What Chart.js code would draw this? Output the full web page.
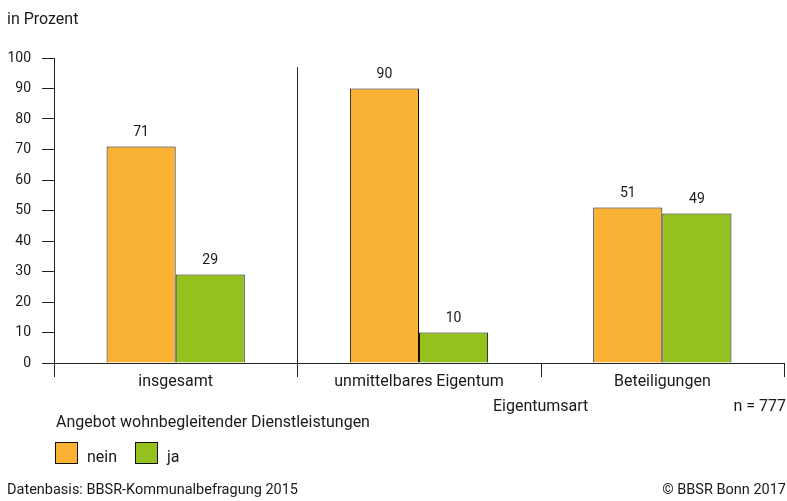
<!DOCTYPE html>
<html>
<head>
<meta charset="utf-8">
<script src="https://cdn.jsdelivr.net/npm/chart.js@4"></script>
<style>
  html, body { margin: 0; padding: 0; background: #fff; }
  #wrap { width: 787px; height: 501px; }
</style>
</head>
<body>
<div id="wrap"><canvas id="chart" width="787" height="501"></canvas></div>
<script>
// values
var categories = ['insgesamt', 'unmittelbares Eigentum', 'Beteiligungen']
var seriesNames = ['nein', 'ja']
var neinValues = [71, 90, 51]
var jaValues = [29, 10, 49]
var yTicks = [0, 10, 20, 30, 40, 50, 60, 70, 80, 90, 100]

var FONT = 'Roboto, sans-serif'
var TEXT = '#1a1a1a'

var extras = {
    id: 'extras',
    afterDatasetsDraw(chart) {
        var ctx = chart.ctx
        var x = chart.scales.x
        var y = chart.scales.y
        var area = chart.chartArea
        ctx.save()

        // value labels above the bars
        ctx.fillStyle = TEXT
        ctx.font = '14px ' + FONT
        ctx.textAlign = 'center'
        ctx.textBaseline = 'bottom'
        chart.data.datasets.forEach((ds, i) => {
            chart.getDatasetMeta(i).data.forEach((bar, j) => {
                ctx.fillText(String(ds.data[j]), bar.x, bar.y - 7)
            })
        })

        // category boundary ticks below the axis
        ctx.strokeStyle = '#222'
        ctx.lineWidth = 1
        var step = x.getPixelForTick(1) - x.getPixelForTick(0)
        for (var k = 0; k <= categories.length; k++) {
            var bx = Math.round(x.getPixelForTick(0) - step / 2 + k * step) + 0.5
            ctx.beginPath()
            ctx.moveTo(bx, area.bottom)
            ctx.lineTo(bx, area.bottom + 14)
            ctx.stroke()
        }
        // separator between first and second group
        var sx = Math.round(x.getPixelForTick(0) + step / 2) + 0.5
        ctx.beginPath()
        ctx.moveTo(sx, y.getPixelForValue(97))
        ctx.lineTo(sx, area.bottom)
        ctx.stroke()

        // texts
        ctx.textBaseline = 'middle'
        ctx.textAlign = 'left'
        ctx.font = '16px ' + FONT
        ctx.fillText('in Prozent', 7, 20)
        ctx.textAlign = 'center'
        ctx.fillText('Eigentumsart', x.getPixelForTick(0) + step * 1.5, 407)
        ctx.textAlign = 'right'
        ctx.fillText('n = 777', 786, 407)
        ctx.textAlign = 'left'
        ctx.fillText('Angebot wohnbegleitender Dienstleistungen', 56, 423)

        // legend
        var lx = 55
        chart.data.datasets.forEach((ds) => {
            ctx.fillStyle = ds.backgroundColor
            ctx.fillRect(lx, 442, 23, 22)
            ctx.strokeStyle = '#111'
            ctx.strokeRect(lx + 0.5, 442.5, 22, 21)
            ctx.fillStyle = TEXT
            ctx.fillText(ds.label, lx + 32, 458)
            lx += 80
        })

        ctx.font = '14.5px ' + FONT
        ctx.fillText('Datenbasis: BBSR-Kommunalbefragung 2015', 7, 490)
        ctx.textAlign = 'right'
        ctx.fillText('\u00a9 BBSR Bonn 2017', 786, 490)
        ctx.restore()
    }
}

new Chart(document.getElementById('chart'), {
    type: 'bar',
    data: {
        labels: categories,
        datasets: [{
            label: seriesNames[0],
            data: neinValues,
            backgroundColor: '#f9b233',
            borderColor: '#111',
            borderWidth: 1
        }, {
            label: seriesNames[1],
            data: jaValues,
            backgroundColor: '#95c11f',
            borderColor: '#111',
            borderWidth: 1
        }]
    },
    options: {
        responsive: false,
        animation: false,
        datasets: { bar: { categoryPercentage: 0.568, barPercentage: 1 } },
        layout: { padding: { top: 58, right: 3, left: 0, bottom: 0 } },
        plugins: {
            legend: { display: false },
            tooltip: { enabled: false }
        },
        scales: {
            x: {
                grid: { display: false, drawTicks: false },
                border: { display: true, color: '#222' },
                ticks: { color: TEXT, font: { family: FONT, size: 16 }, padding: 9, maxRotation: 0 },
                afterFit: (s) => { s.height = 138 }
            },
            y: {
                min: 0,
                max: 100,
                afterBuildTicks: (s) => { s.ticks = yTicks.map(v => ({ value: v })) },
                grid: { drawOnChartArea: false, color: '#222', tickLength: 12 },
                border: { display: true, color: '#222' },
                ticks: { color: TEXT, font: { family: FONT, size: 14 }, padding: 11 },
                afterFit: (s) => { s.width = 54 }
            }
        }
    },
    plugins: [extras]
})
</script>
</body>
</html>
